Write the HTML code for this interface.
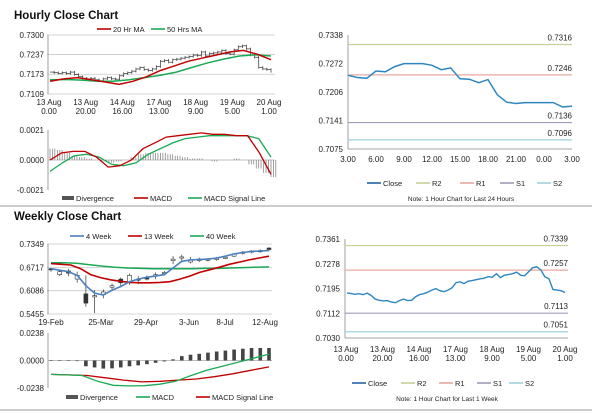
<!DOCTYPE html>
<html><head><meta charset="utf-8"><style>
body{margin:0;background:#fff;width:600px;height:413px;overflow:hidden;font-family:"Liberation Sans",sans-serif}
svg text{font-family:"Liberation Sans",sans-serif}
</style></head><body>
<svg id="s" width="600" height="413" viewBox="0 0 600 413" xmlns="http://www.w3.org/2000/svg">
<text x="14" y="19" font-size="11.5" font-weight="bold" fill="#111">Hourly Close Chart</text>
<text x="14" y="220" font-size="11.5" font-weight="bold" fill="#111">Weekly Close Chart</text>
<line x1="0" y1="206" x2="592" y2="206" stroke="#999" stroke-width="1"/>
<line x1="0" y1="410" x2="592" y2="410" stroke="#999" stroke-width="1"/>
</svg>
<script>
// ---------- DATA ----------
const hourlyClose=[0.7180,0.7178,0.7176,0.7178,0.7175,0.7180,0.7172,0.7165,0.7160,0.7158,0.7160,0.7155,0.7152,0.7158,0.7162,0.7158,0.7157,0.7168,0.7175,0.7178,0.7183,0.7190,0.7195,0.7188,0.7185,0.7190,0.7198,0.7215,0.7218,0.7212,0.7220,0.7222,0.7225,0.7228,0.7230,0.7235,0.7233,0.7245,0.7232,0.7240,0.7242,0.7245,0.7250,0.7240,0.7238,0.7252,0.7262,0.7265,0.7255,0.7235,0.7228,0.7195,0.7190,0.7188,0.7182];
const hourlyMA20=[0.7150,0.7158,0.7162,0.7155,0.7148,0.7140,0.7150,0.7165,0.7185,0.7200,0.7215,0.7225,0.7235,0.7245,0.7250,0.7238,0.7220];
const hourlyMA50=[0.7155,0.7156,0.7154,0.7150,0.7150,0.7155,0.7162,0.7170,0.7180,0.7195,0.7210,0.7222,0.7232,0.7236,0.7232];
const hourlyXLabels=[["13 Aug","0.00"],["13 Aug","20.00"],["14 Aug","16.00"],["17 Aug","13.00"],["18 Aug","9.00"],["19 Aug","5.00"],["20 Aug","1.00"]];
const hourlyYTicks=[0.7300,0.7237,0.7173,0.7109];
const hMacd=[0.0000,0.0005,0.0006,0.0006,0.0002,-0.0005,-0.0004,0.0000,0.0008,0.0012,0.0016,0.0017,0.0018,0.0019,0.0018,0.0018,0.0017,0.0017,0.0005,-0.0010];
const hSignal=[-0.0008,-0.0002,0.0003,0.0004,0.0002,-0.0003,-0.0004,-0.0002,0.0004,0.0008,0.0012,0.0015,0.0016,0.0017,0.0017,0.0017,0.0017,0.0015,0.0002];
const hDiv=[0.0008,0.0007,0.0005,0.0003,0.0002,0.0001,0.0000,-0.0001,-0.0002,-0.0001,0.0000,0.0002,0.0004,0.0005,0.0005,0.0005,0.0004,0.0003,0.0002,0.0001,0.0001,0.0000,-0.0001,0.0000,0.0000,0.0001,0.0000,-0.0003,-0.0006,-0.0009,-0.0012];
const hMacdTicks=[0.0021,0.0000,-0.0021];
const dayClose=[0.7245,0.7240,0.7238,0.7255,0.7253,0.7265,0.7272,0.7272,0.7272,0.7268,0.7258,0.7262,0.7237,0.7236,0.7228,0.7235,0.7200,0.7183,0.7180,0.7182,0.7182,0.7182,0.7182,0.7172,0.7174];
const dayXLabels=["3.00","6.00","9.00","12.00","15.00","18.00","21.00","0.00","3.00"];
const dayYTicks=[0.7338,0.7272,0.7206,0.7141,0.7075];
const dayLevels=[0.7316,0.7246,0.7136,0.7096];
const wOpen=[0.668,0.652,0.662,0.640,0.600,0.592,0.598,0.618,0.640,0.630,0.640,0.644,0.648,0.655,0.690,0.697,0.686,0.690,0.692,0.693,0.697,0.702,0.710,0.714,0.716,0.724];
const wClose=[0.665,0.660,0.656,0.650,0.575,0.595,0.605,0.622,0.630,0.650,0.638,0.640,0.652,0.658,0.694,0.700,0.692,0.694,0.694,0.697,0.699,0.708,0.713,0.716,0.717,0.720];
const wHigh=[0.670,0.664,0.668,0.660,0.650,0.610,0.612,0.628,0.644,0.655,0.648,0.650,0.658,0.662,0.702,0.706,0.700,0.698,0.697,0.700,0.703,0.710,0.716,0.718,0.720,0.726];
const wLow=[0.660,0.648,0.648,0.630,0.565,0.548,0.588,0.610,0.618,0.624,0.626,0.636,0.640,0.650,0.680,0.685,0.682,0.686,0.688,0.690,0.694,0.700,0.706,0.710,0.712,0.716];
const w4=[0.668,0.664,0.660,0.650,0.622,0.602,0.597,0.610,0.620,0.633,0.640,0.645,0.648,0.652,0.670,0.688,0.692,0.693,0.694,0.697,0.702,0.708,0.712,0.715,0.716,0.717];
const w13=[0.682,0.680,0.678,0.668,0.652,0.644,0.638,0.634,0.631,0.630,0.630,0.631,0.633,0.640,0.648,0.658,0.665,0.672,0.680,0.686,0.692,0.697,0.702];
const w40=[0.684,0.684,0.683,0.679,0.675,0.672,0.670,0.669,0.668,0.668,0.668,0.668,0.669,0.669,0.670,0.671,0.672,0.673];
const wXLabels=["19-Feb","25-Mar","29-Apr","3-Jun","8-Jul","12-Aug"];
const wYTicks=[0.7349,0.6717,0.6086,0.5455];
const wDiv=[0.0002,0.0000,0.0000,-0.0005,-0.0050,-0.0060,-0.0070,-0.0068,-0.0060,-0.0050,-0.0042,-0.0032,-0.0020,-0.0008,0.0010,0.0038,0.0050,0.0058,0.0068,0.0078,0.0086,0.0095,0.0102,0.0108,0.0108,0.0108];
const wMacd=[-0.0120,-0.0125,-0.0130,-0.0180,-0.0215,-0.0220,-0.0218,-0.0205,-0.0180,-0.0130,-0.0085,-0.0050,-0.0015,0.0020,0.0055];
const wSignal=[-0.0120,-0.0125,-0.0130,-0.0150,-0.0170,-0.0185,-0.0180,-0.0170,-0.0160,-0.0140,-0.0115,-0.0085,-0.0055];
const wMacdTicks=[0.0238,0.0000,-0.0238];
const weekClose=[0.7180,0.7179,0.7176,0.7178,0.7175,0.7180,0.7172,0.7160,0.7156,0.7154,0.7155,0.7150,0.7148,0.7155,0.7160,0.7155,0.7156,0.7168,0.7175,0.7178,0.7183,0.7190,0.7195,0.7188,0.7185,0.7190,0.7198,0.7215,0.7218,0.7212,0.7220,0.7222,0.7225,0.7228,0.7230,0.7235,0.7233,0.7245,0.7232,0.7240,0.7242,0.7245,0.7250,0.7240,0.7238,0.7252,0.7265,0.7268,0.7258,0.7235,0.7228,0.7192,0.7190,0.7188,0.7182];
const weekXLabels=[["13 Aug","0.00"],["13 Aug","20.00"],["14 Aug","16.00"],["17 Aug","13.00"],["18 Aug","9.00"],["19 Aug","5.00"],["20 Aug","1.00"]];
const weekYTicks=[0.7361,0.7278,0.7195,0.7112,0.7030];
const weekLevels=[0.7339,0.7257,0.7113,0.7051];
// ---------- HELPERS ----------
const S=document.getElementById('s');const NS="http://www.w3.org/2000/svg";
function el(t,a,txt){const e=document.createElementNS(NS,t);for(const k in a)e.setAttribute(k,a[k]);if(txt!==undefined)e.textContent=txt;S.appendChild(e);return e;}
function lin(v0,v1,p0,p1){return v=>p0+(v-v0)/(v1-v0)*(p1-p0);}
function poly(arr,xs,ys,n,color,w,name){const pts=arr.map((v,i)=>xs(i*(n-1)/(arr.length-1)).toFixed(1)+","+ys(v).toFixed(1)).join(" ");const p=el('polyline',{points:pts,fill:'none',stroke:color,'stroke-width':w});

return p;}
function txt(x,y,s,anchor,size,name){const t=el('text',{x:x,y:y,'font-size':size||8,'text-anchor':anchor||'start',fill:'#222'},s);

return t;}
function hl(x1,x2,y,color,name,w){const l=el('line',{x1:x1,x2:x2,y1:y,y2:y,stroke:color,'stroke-width':w||1});

return l;}
function vaxis(x,y1,y2){const l=el('line',{x1:x,x2:x,y1:y1,y2:y2,stroke:'#888','stroke-width':0.8});

}
function legend(items,y){items.forEach(it=>{const g=el('line',{x1:it[0],x2:it[0]+(it[3]?12:14),y1:y,y2:y,stroke:it[2],'stroke-width':it[3]?4:1.6});


txt(it[0]+(it[3]?14:16),y+3,it[1],'start',7.5,'legend-entry');});}
function yTicks(ticks,ys,x,grid,x2){ticks.forEach(v=>{txt(x,ys(v)+3,v.toFixed(4),'end',8,'y-tick-label');if(grid)hl(x+3,x2,ys(v),'#c8c8c8','gridline',0.8);});}
// ---------- HOURLY LEFT ----------
{const x0=48,x1=275,xs=lin(0,54,x0+2,x1-4),ys=lin(0.7109,0.7300,94,35);
yTicks(hourlyYTicks,ys,44,true,x1);vaxis(x0,35,94);
hourlyClose.forEach((v,i)=>{if(i===0)return;const p=hourlyClose[i-1];const x=xs(i);
const c=el('line',{x1:x,x2:x,y1:ys(Math.max(v,p)+0.0004),y2:ys(Math.min(v,p)-0.0004),stroke:'#333','stroke-width':0.7});


const h=el('line',{x1:xs(i-1),x2:x,y1:ys(p),y2:ys(p),stroke:'#333','stroke-width':0.7});

});
poly(hourlyMA50,xs,ys,55,'#1aaa55',1.5,'ma50-line');poly(hourlyMA20,xs,ys,55,'#c00000',1.5,'ma20-line');
hourlyXLabels.forEach((l,i)=>{const x=lin(0,6,49,269)(i);txt(x,105,l[0],'middle',8,'x-tick-label');txt(x,114,l[1],'middle',8,'x-tick-label');});
legend([[97,'20 Hr MA','#c00000'],[151,'50 Hrs MA','#1aaa55']],29);
const ym=lin(-0.0021,0.0021,190,130),xm=lin(0,30,x0+2,x1-4);
yTicks(hMacdTicks,ym,44,false);vaxis(x0,130,190);hl(x0,x1,ym(0),'#aaa','zero-line',0.8);
hDiv.forEach((v,i)=>{for(let k=0;k<3;k++){const x=xm(i)+k*2.4;const b=el('line',{x1:x,x2:x,y1:ym(0),y2:ym(v),stroke:'#888','stroke-width':0.8});

}});
poly(hSignal,xm,ym,31,'#1aaa55',1.3,'macd-signal-line');poly(hMacd,xm,ym,31,'#c00000',1.3,'macd-line');
legend([[62,'Divergence','#555',1],[134,'MACD','#c00000'],[188,'MACD Signal Line','#1aaa55']],198);}
// ---------- HOURLY RIGHT (24h) ----------
{const x0=348,x1=572,xs=lin(0,24,x0,x1),ys=lin(0.7075,0.7338,149,35);
yTicks(dayYTicks,ys,343,false);vaxis(x0,35,149);hl(x0,x1,149,'#888','x-axis-line',0.8);
const cols=['#c8cf98','#e8a8a0','#a09ab8','#9fd0dc'];
dayLevels.forEach((v,i)=>{hl(x0,x1,ys(v),cols[i],'level-line-'+i,1.2);txt(x1,ys(v)-4,v.toFixed(4),'end',8,'level-label');});
poly(dayClose,xs,ys,25,'#2e86c1',1.5,'close-line');
dayXLabels.forEach((l,i)=>txt(x0+i*28,162,l,'middle',8,'x-tick-label'));
legend([[367,'Close','#2163a6'],[416,'R2','#c8cf98'],[460,'R1','#e8a8a0'],[500,'S1','#a09ab8'],[537,'S2','#9fd0dc']],183);
txt(461,201,'Note: 1 Hour Chart for Last 24 Hours','middle',6.5,'chart-note');}
// ---------- WEEKLY LEFT ----------
{const x0=48,x1=272,xs=lin(0,25,x0+3,x1-3),ys=lin(0.5455,0.7349,314,244);
yTicks(wYTicks,ys,44,true,x1);vaxis(x0,244,314);
wOpen.forEach((o,i)=>{const c=wClose[i],x=xs(i);
const w=el('line',{x1:x,x2:x,y1:ys(wHigh[i]),y2:ys(wLow[i]),stroke:'#333','stroke-width':0.7});


const r=el('rect',{x:x-2,y:ys(Math.max(o,c)),width:4,height:Math.max(1.2,Math.abs(ys(o)-ys(c))),fill:c<o?'#333':'#fff',stroke:'#333','stroke-width':0.6});

});
poly(w40,xs,ys,26,'#1aaa55',1.5,'ma40-line');poly(w13,xs,ys,26,'#c00000',1.6,'ma13-line');poly(w4,xs,ys,26,'#4a7fc0',1.6,'ma4-line');
const lx=[51,101,146,189,225,265];wXLabels.forEach((l,i)=>txt(lx[i],325,l,'middle',8,'x-tick-label'));
legend([[70,'4 Week','#4a7fc0'],[128,'13 Week','#c00000'],[190,'40 Week','#1aaa55']],236);
const ym=lin(-0.0238,0.0238,388,333);
yTicks(wMacdTicks,ym,44,false);vaxis(x0,333,388);hl(x0,x1,ym(0),'#aaa','zero-line',0.8);
wDiv.forEach((v,i)=>{const b=el('rect',{x:xs(i)-1.8,y:Math.min(ym(0),ym(v)),width:3.6,height:Math.max(0.5,Math.abs(ym(v)-ym(0))),fill:'#444'});

});
poly(wSignal,xs,ym,26,'#c00000',1.3,'weekly-macd-signal-line');poly(wMacd,xs,ym,26,'#1aaa55',1.3,'weekly-macd-line');
legend([[66,'Divergence','#555',1],[136,'MACD','#1aaa55'],[196,'MACD Signal Line','#c00000']],397);}
// ---------- WEEKLY RIGHT (1 week hourly) ----------
{const x0=345,x1=568,xs=lin(0,54,x0+2,x1-3),ys=lin(0.7030,0.7361,338,239);
yTicks(weekYTicks,ys,340,false);vaxis(x0,239,338);hl(x0,x1,338,'#888','x-axis-line',0.8);
const cols=['#c8cf98','#e8a8a0','#a09ab8','#9fd0dc'];
weekLevels.forEach((v,i)=>{hl(x0,x1,ys(v),cols[i],'level-line-'+i,1.2);txt(x1,ys(v)-4,v.toFixed(4),'end',8,'level-label');});
poly(weekClose,xs,ys,55,'#2e86c1',1.4,'close-line');
weekXLabels.forEach((l,i)=>{const x=lin(0,6,346,565)(i);txt(x,352,l[0],'middle',8,'x-tick-label');txt(x,361,l[1],'middle',8,'x-tick-label');});
legend([[352,'Close','#2163a6'],[401,'R2','#c8cf98'],[439,'R1','#e8a8a0'],[477,'S1','#a09ab8'],[509,'S2','#9fd0dc']],383);
txt(447,401,'Note: 1 Hour Chart for Last 1 Week','middle',6.5,'chart-note');}
</script>
</body></html>
